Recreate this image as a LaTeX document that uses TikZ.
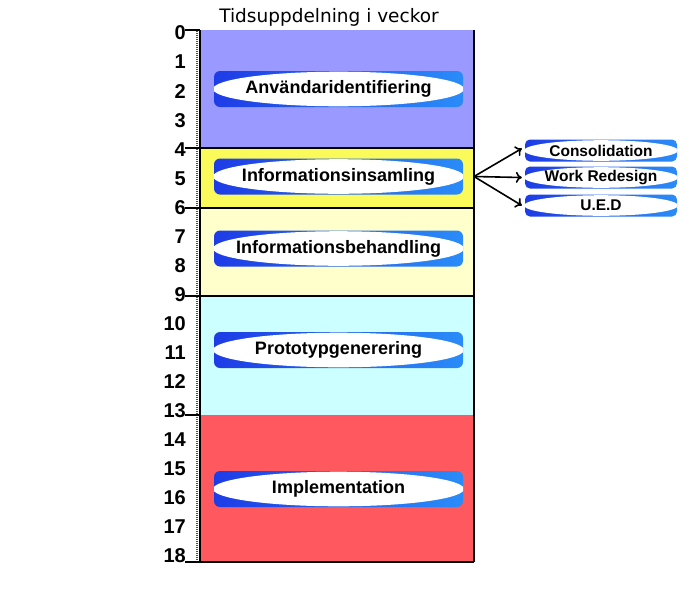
\documentclass[tikz,border=0pt]{standalone}
\usepackage{fontspec}
\setmainfont{Liberation Sans}
\newfontfamily\titlefont{DejaVu Sans}
\usetikzlibrary{arrows.meta}
\definecolor{cblue}{HTML}{9999FF}
\definecolor{cyellow}{HTML}{FAFA5A}
\definecolor{clyellow}{HTML}{FFFFCC}
\definecolor{ccyan}{HTML}{CCFFFF}
\definecolor{cred}{HTML}{FF585F}
\definecolor{pillL}{HTML}{1E3CE6}
\definecolor{pillR}{HTML}{2A8CF8}
\begin{document}
\begin{tikzpicture}[x=1pt,y=-1pt,
  bigpill/.style={rectangle, rounded corners=6pt, minimum width=249pt, minimum height=36pt, inner sep=0pt,
    left color=pillL, right color=pillR,
    path picture={\fill[white] (path picture bounding box.center) ellipse [x radius=125.5pt, y radius=17.3pt];},
    font=\fontsize{18}{21}\selectfont\bfseries},
  smallpill/.style={rectangle, rounded corners=5pt, minimum width=152pt, minimum height=22pt, inner sep=0pt,
    left color=pillL, right color=pillR,
    path picture={\fill[white] (path picture bounding box.center) ellipse [x radius=77pt, y radius=10.3pt];},
    font=\fontsize{15.5}{18}\selectfont\bfseries},
  numlab/.style={anchor=east, inner sep=0pt, font=\fontsize{20}{23}\selectfont\bfseries},
  bord/.style={line width=1.6pt, black},
  arr/.style={line width=1.6pt, -{To[length=6pt,width=11pt]}}
]
\useasboundingbox (0,0) rectangle (700,600);
\fill[white] (0,0) rectangle (700,600);
% bands
\fill[cblue] (200,30) rectangle (474,148);
\fill[cyellow] (200,148) rectangle (474,208);
\fill[clyellow] (200,208) rectangle (474,296);
\fill[ccyan] (200,296) rectangle (474,415);
\fill[cred] (200,415) rectangle (474,562);
% borders
\draw[bord] (474,30) -- (474,562);
\draw[bord] (200,148) -- (474,148);
\draw[bord] (200,208) -- (474,208);
\draw[bord] (200,296) -- (474,296);
\draw[bord] (185,562) -- (474,562);
% axis
\draw[bord] (200,30) -- (200,562);
\draw[line width=2.4pt, black!70, dash pattern=on 0.6pt off 1.4pt] (197.2,31) -- (197.2,561);
\foreach \t in {30,148,208,296,415}
  \draw[bord] (185,\t) -- (200,\t);
% numbers
\foreach \i in {0,...,18}
  \node[numlab] (n\i) at (186,33+29.06*\i) {\i};
% title
\node[font=\titlefont\fontsize{18.5}{22}\selectfont] (title) at (329,17) {Tidsuppdelning i veckor};
% pills
\node[bigpill] (p1) at (338.5,89) {Användaridentifiering};
\node[bigpill] (p2) at (338.5,176.5) {Informationsinsamling};
\node[bigpill] (p3) at (338.5,248.5) {Informationsbehandling};
\node[bigpill] (p4) at (338.5,350) {Prototypgenerering};
\node[bigpill] (p5) at (338.5,489) {Implementation};
% small pills
\node[smallpill] (s1) at (601,150.5) {Consolidation};
\node[smallpill] (s2) at (601,177.5) {Work Redesign};
\node[smallpill] (s3) at (601,205.5) {U.E.D};
% arrows
\coordinate (src) at (474,176.5);
\draw[arr] (src) -- ([xshift=-3pt,yshift=2pt]s1.west);
\draw[arr] (src) -- ([xshift=-3pt]s2.west);
\draw[arr] (src) -- ([xshift=-3pt]s3.west);
\end{tikzpicture}
\end{document}
